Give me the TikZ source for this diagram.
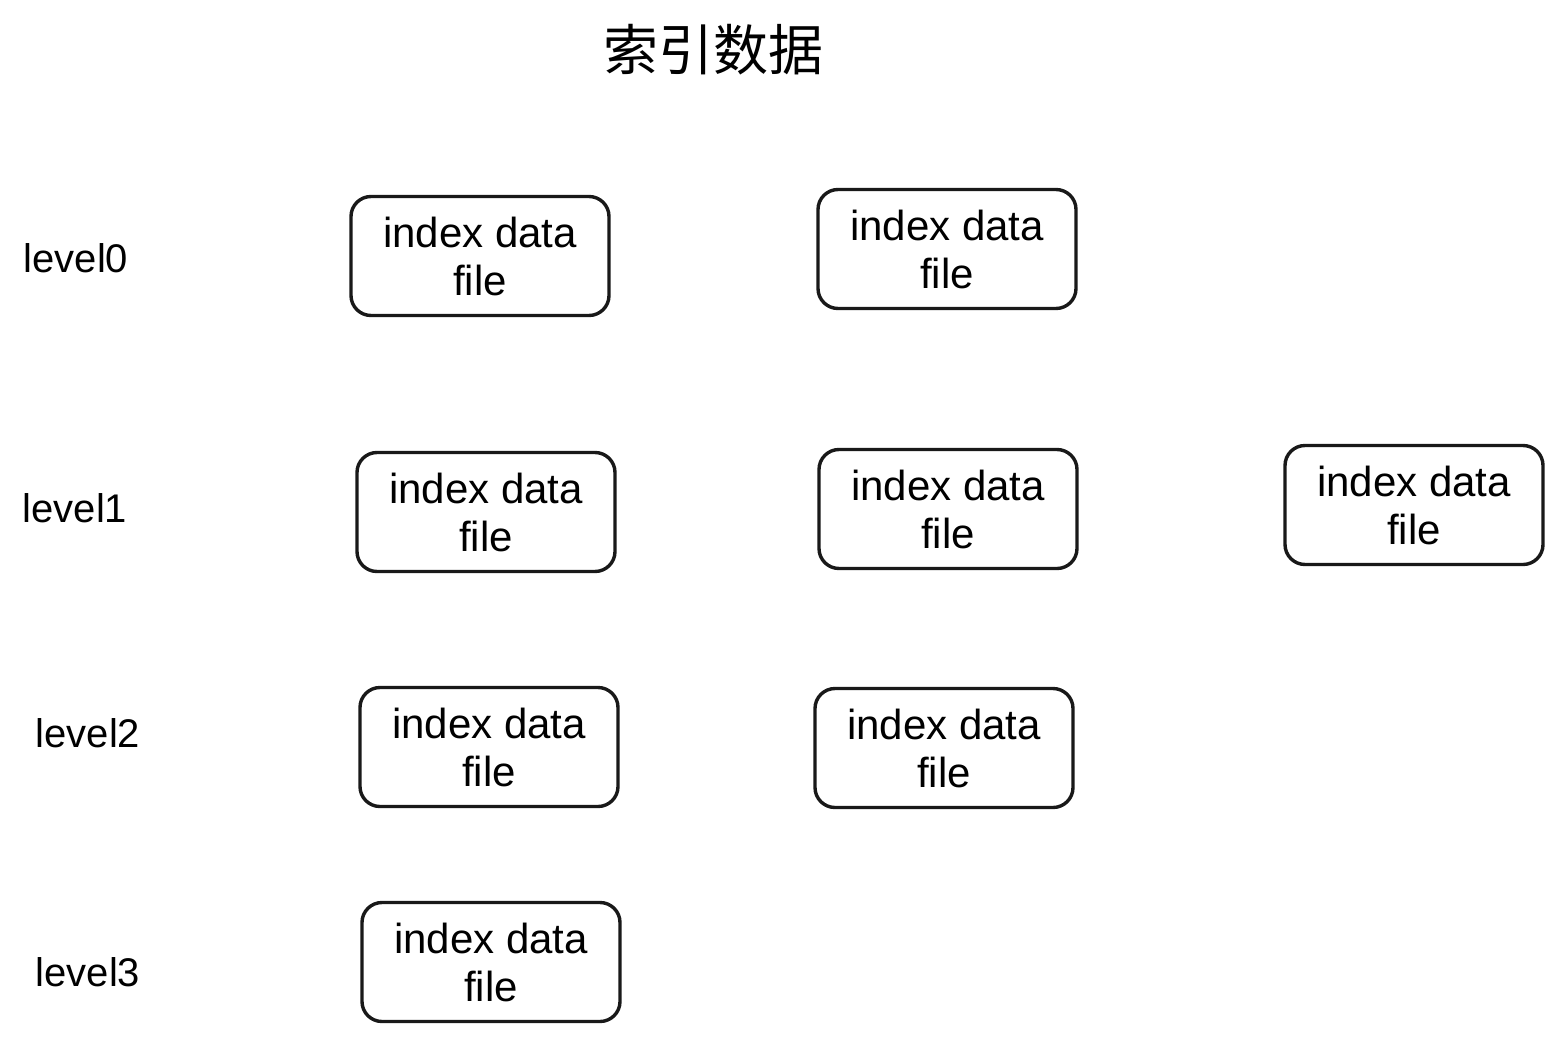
\documentclass[tikz,border=0pt]{standalone}
\usepackage{fontspec}
\setmainfont{Liberation Sans}
\newfontfamily\cjk{Noto Sans CJK SC}
\begin{document}
\begin{tikzpicture}[x=1pt,y=-1pt,
  filebox/.style={draw=black!90, line width=3.4pt, rounded corners=20pt, minimum width=258pt, minimum height=119pt, align=center, inner sep=0pt, font=\fontsize{42}{48}\selectfont},
  lvl/.style={anchor=center, font=\fontsize{40}{48}\selectfont, inner sep=0pt}]
\useasboundingbox (0,0) rectangle (1565,1041);
\node[font=\cjk\fontsize{55}{60}\selectfont, inner sep=0pt] (title) at (713,50) {索引数据};
\node[lvl] (l0) at (76,258) {level0};
\node[lvl] (l1) at (75,508) {level1};
\node[lvl] (l2) at (88,733) {level2};
\node[lvl] (l3) at (88,972) {level3};
\node[filebox] (a0) at (480,256) {index data\\file};
\node[filebox] (b0) at (947,249) {index data\\file};
\node[filebox] (a1) at (486,512) {index data\\file};
\node[filebox] (b1) at (948,509) {index data\\file};
\node[filebox] (c1) at (1414,505) {index data\\file};
\node[filebox] (a2) at (489,747) {index data\\file};
\node[filebox] (b2) at (944,748) {index data\\file};
\node[filebox] (a3) at (491,962) {index data\\file};
\end{tikzpicture}
\end{document}
